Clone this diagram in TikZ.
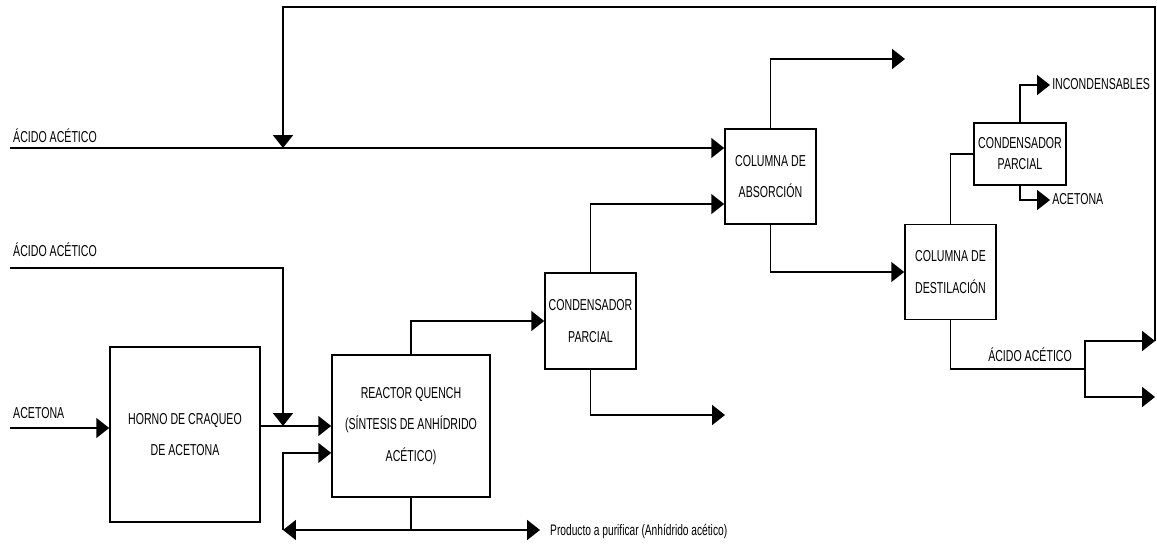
\documentclass[tikz,border=0pt]{standalone}
\usepackage{fontspec}
\newfontfamily\narrowfont[FakeStretch=0.67]{Liberation Sans}
\usetikzlibrary{arrows.meta}
\tikzstyle{unit} = [draw, line width=1.4pt, align=center, inner sep=0pt,
    font=\narrowfont\fontsize{13.5}{27}\selectfont]
\tikzstyle{tag} = [inner sep=0pt, anchor=base west,
    font=\narrowfont\fontsize{13.5}{15}\selectfont]
\tikzstyle{line} = [line width=1.4pt]
\tikzstyle{arrow} = [line width=1.4pt,-{Triangle[length=11pt,width=17pt]}]

\begin{document}
\begin{tikzpicture}[x=0.03cm,y=-0.03cm]
        \useasboundingbox (0,0) rectangle (1157,544);
        \node (horno)[unit,
            minimum width=4.5cm,
            minimum height=5.25cm] at (185,434.5) {HORNO DE CRAQUEO\\DE ACETONA};
        \node (reactor)[unit,
            minimum width=4.74cm,
            minimum height=4.26cm] at (411,426) {REACTOR QUENCH\\(SÍNTESIS DE ANHÍDRIDO\\ACÉTICO)};
        \node (cond1)[unit,
            minimum width=2.73cm,
            minimum height=2.88cm] at (590.5,321) {CONDENSADOR\\PARCIAL};
        \node (absor)[unit,
            minimum width=2.73cm,
            minimum height=2.85cm] at (770.5,176.5) {COLUMNA DE\\ABSORCIÓN};
        \node (desti)[unit,
            minimum width=2.73cm,
            minimum height=2.85cm] at (950.5,272) {COLUMNA DE\\DESTILACIÓN};
        \node (cond2)[unit,
            font=\narrowfont\fontsize{13.5}{18}\selectfont,
            minimum width=2.76cm,
            minimum height=1.86cm] at (1020,154) {CONDENSADOR\\PARCIAL};

        \coordinate (acid1) at (10,148);
        \coordinate (acid2) at (10,268);
        \coordinate (acetona) at (10,428);
        \coordinate (mix) at (283,426);
        \coordinate (ret) at (283,530);
        \coordinate (prod) at (540,530);
        \coordinate (gas1) at (725,415);
        \coordinate (vent) at (905,59);
        \coordinate (incond) at (1050,85);
        \coordinate (aceto) at (1050,200);
        \coordinate (split) at (1085,369);
        \coordinate (out1) at (1155,341);
        \coordinate (out2) at (1155,397);
        \coordinate (loop) at (1155,7);

        \node (t acid1)[tag] at (13,143) {ÁCIDO ACÉTICO};
        \node (t acid2)[tag] at (13,257) {ÁCIDO ACÉTICO};
        \node (t acetona)[tag] at (13,418) {ACETONA};
        \node (t prod)[tag,font=\narrowfont\fontsize{13}{15}\selectfont] at (550,535) {Producto a purificar (Anhídrido acético)};
        \node (t incond)[tag] at (1052,90) {INCONDENSABLES};
        \node (t aceto)[tag] at (1052,205) {ACETONA};
        \node (t acid3)[tag] at (988,361) {ÁCIDO ACÉTICO};

        \draw [arrow] (acetona) -- (acetona -| horno.west);
        \draw [arrow] (horno.east |- reactor.west) -- (reactor.west);
        \draw [arrow] (acid2) -| (mix);
        \draw [arrow] (reactor.south) |- (prod);
        \draw [arrow] (reactor.south |- prod) -- (ret);
        \draw [arrow] (ret) |- ([yshift=-23pt]reactor.west);
        \draw [arrow] (reactor.north) |- (cond1.west);
        \draw [arrow] (cond1.north) |- ([yshift=-23.5pt]absor.west);
        \draw [arrow] (cond1.south) |- (gas1);
        \draw [arrow] (acid1) -- (acid1 -| absor.west);
        \draw [arrow] (absor.north) |- (vent);
        \draw [arrow] (absor.south) |- (desti.west);
        \draw [line] (desti.north) |- (cond2.west);
        \draw [arrow] (cond2.north) |- (incond);
        \draw [arrow] (cond2.south) |- (aceto);
        \draw [line] (desti.south) |- (split);
        \draw [arrow] (split) |- (out1);
        \draw [arrow] (split) |- (out2);
        \draw [arrow] (out1) -- (loop) -| (acid1 -| mix);
    \end{tikzpicture}
\end{document}
